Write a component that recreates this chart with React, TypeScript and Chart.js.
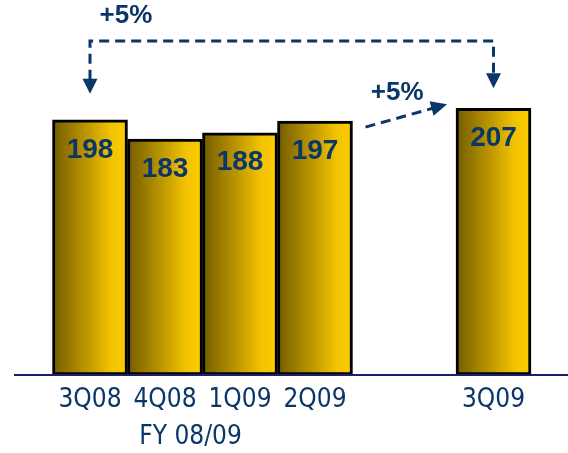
import React, { useEffect, useRef } from "react";
import { Chart, registerables } from "chart.js";

Chart.register(...registerables);

const categories = ["3Q08", "4Q08", "1Q09", "2Q09", "3Q09"];
const values = [198, 183, 188, 197, 207];
const positions = [1, 2, 3, 4, 6.38];
const groupLabel = "FY 08/09";
const growthLabels = ["+5%", "+5%"];

const NAVY = "#0b3768";
const BAR_W = 75;

export default function App() {
  const ref = useRef<HTMLCanvasElement | null>(null);

  useEffect(() => {
    if (!ref.current) return;

    const arrowHead = (c: CanvasRenderingContext2D, tx: number, ty: number, dx: number, dy: number, len: number, half: number) => {
      const n = Math.hypot(dx, dy);
      const ux = dx / n, uy = dy / n;
      const bx = tx - ux * len, by = ty - uy * len;
      c.beginPath();
      c.moveTo(tx, ty);
      c.lineTo(bx - uy * half, by + ux * half);
      c.lineTo(bx + uy * half, by - ux * half);
      c.closePath();
      c.fill();
    };

    const overlay = {
      id: "overlay",
      afterDatasetsDraw(chart: any) {
        const c: CanvasRenderingContext2D = chart.ctx;
        const xs = chart.scales.x;
        const ys = chart.scales.y;
        const area = chart.chartArea;
        c.save();
        // baseline
        c.strokeStyle = "#1a1f6e";
        c.lineWidth = 2;
        c.beginPath();
        c.moveTo(area.left - 1, area.bottom);
        c.lineTo(area.right, area.bottom);
        c.stroke();

        // value labels
        c.fillStyle = NAVY;
        c.textAlign = "center";
        c.textBaseline = "middle";
        c.font = "bold 28px 'Liberation Sans', Arial, sans-serif";
        values.forEach((v, i) => {
          const x = xs.getPixelForValue(positions[i]);
          const y = ys.getPixelForValue(v);
          c.fillText(String(v), x, y + 30);
        });

        // category labels
        c.font = "26px 'DejaVu Sans Condensed', 'DejaVu Sans', sans-serif";
        c.textBaseline = "alphabetic";
        categories.forEach((cat, i) => {
          const x = xs.getPixelForValue(positions[i]);
          c.fillText(cat, x, area.bottom + 32);
        });
        const gx = (xs.getPixelForValue(positions[0]) + xs.getPixelForValue(positions[3])) / 2 - 12;
        c.fillText(groupLabel, gx, area.bottom + 69);

        // arrows
        c.strokeStyle = NAVY;
        c.fillStyle = NAVY;
        c.lineWidth = 3;
        c.setLineDash([10, 6]);
        const x1 = xs.getPixelForValue(positions[0]);
        const x2 = xs.getPixelForValue(positions[4]);
        const tip1 = ys.getPixelForValue(values[0]) - 26;
        const tip2 = ys.getPixelForValue(values[4]) - 20;
        const topY = 41;
        c.beginPath();
        c.moveTo(x1, tip1 - 14);
        c.lineTo(x1, topY);
        c.lineTo(x2, topY);
        c.lineTo(x2, tip2 - 14);
        c.stroke();
        c.setLineDash([]);
        arrowHead(c, x1, tip1, 0, 1, 15, 7.5);
        arrowHead(c, x2, tip2, 0, 1, 15, 7.5);

        // diagonal arrow
        const sx = xs.getPixelForValue(positions[3]) + BAR_W / 2 + 13;
        const sy = ys.getPixelForValue(values[3]) + 6;
        const ex = xs.getPixelForValue(positions[4]) - BAR_W / 2 - 9;
        const ey = ys.getPixelForValue(values[4]) - 4;
        const dx = ex - sx, dy = ey - sy;
        const n = Math.hypot(dx, dy);
        c.setLineDash([10, 6]);
        c.beginPath();
        c.moveTo(sx, sy);
        c.lineTo(ex - (dx / n) * 14, ey - (dy / n) * 14);
        c.stroke();
        c.setLineDash([]);
        arrowHead(c, ex, ey, dx, dy, 16, 7.5);

        // growth labels
        c.font = "bold 26px 'Liberation Sans', Arial, sans-serif";
        c.textAlign = "center";
        c.textBaseline = "middle";
        c.fillText(growthLabels[0], x1 + 36, 16);
        c.fillText(growthLabels[1], (sx + ex) / 2 - 9, ey - 11);
        c.restore();
      },
    };

    const chart = new Chart(ref.current, {
      type: "bar",
      data: {
        datasets: [
          {
            data: positions.map((x, i) => ({ x, y: values[i] })),
            barThickness: BAR_W,
            borderWidth: 3,
            borderColor: "#000000",
            borderSkipped: false,
            backgroundColor: (ctx: any) => {
              const chart = ctx.chart;
              if (!chart.chartArea || !ctx.raw) return "#e0b000";
              const cx = chart.scales.x.getPixelForValue(ctx.raw.x);
              const g = chart.ctx.createLinearGradient(cx - BAR_W / 2, 0, cx + BAR_W / 2, 0);
              g.addColorStop(0, "#735c00");
              g.addColorStop(0.45, "#bc9600");
              g.addColorStop(0.78, "#f2c300");
              g.addColorStop(1, "#fdcc00");
              return g;
            },
          },
        ],
      },
      options: {
        responsive: false,
        animation: false,
        layout: { padding: { left: 15, right: 0, top: 0, bottom: 78 } },
        plugins: { legend: { display: false }, tooltip: { enabled: false } },
        scales: {
          x: { type: "linear", min: 0, max: 553 / 75, display: false, offset: false },
          y: { min: 0, max: 291, display: false },
        },
      } as any,
      plugins: [overlay],
    });
    return () => chart.destroy();
  }, []);

  return (
    <div style={{ position: "fixed", left: 0, top: 0, width: 568, height: 453, background: "#fff" }}>
      <canvas ref={ref} width={568} height={453} />
    </div>
  );
}
